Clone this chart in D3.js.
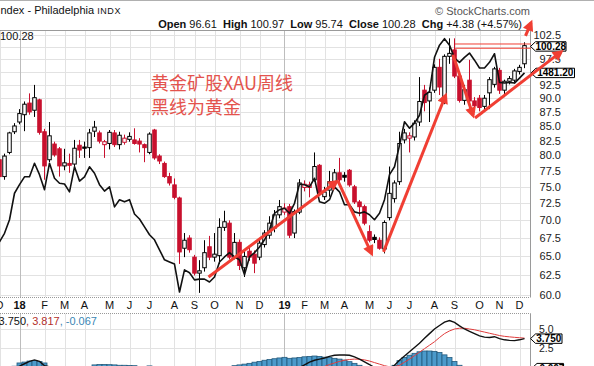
<!DOCTYPE html>
<html>
<head>
<meta charset="utf-8">
<script src="https://cdn.jsdelivr.net/npm/d3@7"></script>
<style>
  body { margin: 0; background: #fff; }
  svg { display: block; font-family: "Liberation Sans", Arial, sans-serif; }
</style>
</head>
<body>
<script>
// weekly bars, first bar is the week of 4 Dec 2017
var startWeek = new Date(Date.UTC(2017, 11, 4));

var opens = [
    79.3, 76.6, 80.5, 84.0, 85.7, 87.0, 89.1, 87.8, 89.7, 84.0,
    79.3, 81.9, 81.1, 78.3, 78.7, 78.6, 81.7, 81.4, 81.3, 84.1,
    83.8, 81.8, 82.0, 83.8, 81.8, 82.2, 82.7, 82.6, 82.4, 81.8,
    80.5, 84.3, 79.9, 78.7, 76.6, 75.3, 73.3, 66.1, 67.5, 64.9,
    62.8, 63.5, 66.3, 64.9, 65.1, 69.0, 69.6, 64.9, 66.9, 63.5,
    65.7, 65.3, 64.9, 66.6, 67.9, 68.9, 70.8, 71.2, 72.0, 68.2,
    71.2, 74.9, 74.9, 76.1, 78.4, 73.5, 74.5, 75.8, 77.2, 76.8,
    77.6, 75.0, 72.7, 72.0, 68.4, 67.6, 67.2, 66.0, 70.4, 73.2,
    75.8, 82.6, 82.9, 83.1, 85.7, 91.5, 89.5, 91.5, 95.9, 89.8,
    98.1, 99.4, 94.2, 89.6, 93.4, 89.5, 90.0, 88.5, 91.0, 92.6,
    95.3, 91.5, 93.2, 93.4, 95.1, 96.61
];
var highs = [
    80.0, 80.3, 84.0, 85.5, 88.0, 89.4, 90.9, 92.5, 89.9, 84.5,
    85.7, 82.3, 81.4, 81.1, 80.3, 82.6, 82.6, 82.3, 84.5, 85.9,
    84.2, 82.6, 84.3, 84.3, 84.0, 83.5, 83.9, 84.6, 82.9, 82.0,
    83.9, 84.5, 80.2, 79.0, 77.2, 76.3, 73.5, 68.2, 67.9, 65.2,
    64.5, 67.2, 67.8, 68.2, 70.3, 71.4, 70.0, 68.2, 67.3, 65.9,
    66.3, 65.8, 67.5, 68.6, 70.6, 71.5, 73.0, 72.5, 72.4, 71.6,
    76.2, 76.0, 75.8, 80.5, 78.6, 75.0, 77.5, 77.8, 79.6, 77.3,
    77.8, 75.3, 73.0, 72.3, 69.3, 68.0, 67.6, 70.0, 78.2, 76.0,
    84.0, 84.5, 83.9, 86.0, 94.0, 92.5, 92.0, 96.5, 97.6, 98.5,
    101.8, 101.8, 94.8, 92.5, 97.4, 90.2, 90.6, 90.6, 94.0, 96.0,
    95.8, 93.5, 94.2, 95.6, 96.4, 100.97
];
var lows = [
    76.3, 76.1, 80.2, 83.6, 85.3, 84.1, 87.0, 86.6, 83.5, 76.1,
    78.9, 79.8, 76.6, 77.6, 77.2, 78.2, 79.6, 79.6, 79.6, 83.1,
    82.0, 79.6, 81.0, 81.4, 81.0, 81.8, 82.3, 81.8, 80.5, 78.9,
    80.2, 79.3, 78.6, 76.4, 75.2, 73.1, 64.0, 64.9, 65.5, 62.5,
    60.3, 63.0, 64.5, 64.3, 64.0, 68.5, 64.6, 64.6, 63.2, 62.3,
    64.4, 62.8, 64.5, 66.2, 67.4, 68.3, 70.3, 70.8, 67.5, 67.5,
    70.9, 74.3, 73.4, 75.8, 73.8, 73.0, 73.5, 75.3, 75.3, 75.8,
    75.0, 72.4, 70.6, 69.3, 66.9, 66.8, 65.9, 65.4, 70.0, 72.6,
    75.3, 82.0, 80.5, 82.5, 85.0, 87.6, 85.7, 91.0, 90.6, 88.9,
    96.6, 93.8, 89.2, 88.8, 88.2, 87.8, 87.6, 87.6, 88.0, 92.0,
    90.8, 90.2, 92.6, 93.0, 94.5, 95.74
];
var closes = [
    76.6, 79.9, 83.8, 85.0, 87.2, 88.9, 87.5, 90.1, 83.9, 78.3,
    83.3, 80.1, 78.3, 78.8, 78.4, 81.2, 80.9, 81.2, 83.8, 84.8,
    82.4, 82.3, 83.9, 81.8, 83.4, 82.9, 83.2, 82.0, 81.9, 81.3,
    83.6, 79.6, 79.1, 76.6, 75.6, 73.4, 65.6, 67.2, 65.9, 62.8,
    63.1, 65.5, 64.9, 65.3, 69.0, 69.8, 64.9, 66.9, 63.8, 65.0,
    64.9, 64.1, 66.8, 68.2, 69.6, 70.8, 72.0, 71.8, 67.9, 71.3,
    75.6, 75.4, 75.3, 78.2, 74.1, 74.2, 75.8, 77.2, 76.1, 76.5,
    75.3, 72.7, 72.0, 69.6, 67.2, 67.3, 66.1, 69.7, 74.0, 75.6,
    82.0, 83.8, 83.3, 85.5, 89.4, 89.2, 91.1, 95.9, 92.1, 98.1,
    98.7, 94.2, 89.6, 91.6, 89.5, 88.6, 88.3, 90.0, 93.5, 95.6,
    91.5, 93.2, 93.7, 95.2, 95.9, 100.28
];

// gold overlay (black line)
var gold = [
    1245, 1257, 1276, 1313, 1325, 1336, 1336, 1355, 1339, 1318,
    1355, 1334, 1327, 1326, 1315, 1350, 1330, 1336, 1350, 1341,
    1325, 1316, 1322, 1294, 1304, 1301, 1304, 1284, 1277, 1266,
    1255, 1248, 1234, 1220, 1217, 1214, 1175, 1206, 1202, 1192,
    1193, 1193, 1189, 1196, 1217, 1224, 1230, 1224, 1220, 1199,
    1224, 1230, 1238, 1248, 1262, 1285, 1290, 1292, 1285, 1299,
    1326, 1325, 1322, 1334, 1301, 1299, 1304, 1322, 1315, 1297,
    1297, 1287, 1285, 1287, 1283, 1276, 1285, 1304, 1339, 1350,
    1380, 1413, 1404, 1411, 1422, 1450, 1455, 1503, 1520, 1529,
    1520, 1502, 1496, 1503, 1509, 1499, 1488, 1488, 1496, 1508,
    1468, 1467, 1468, 1467, 1474, 1481.2
];

// MACD(12,26,9)
var macd = [
    -1.2, -0.9, -0.5, -0.1, 0.2, 0.5, 0.8, 1.0, 0.8, 0.25,
    0.1, -0.2, -0.5, -0.8, -0.9, -0.8, -0.8, -0.8, -0.6, -0.3,
    -0.2, -0.15, -0.1, -0.15, -0.15, -0.15, -0.2, -0.25, -0.35, -0.5,
    -0.25, -0.5, -0.8, -1.2, -1.6, -2.0, -2.8, -3.3, -3.7, -4.2,
    -4.5, -4.6, -4.7, -4.7, -4.4, -4.0, -4.2, -3.8, -3.7, -3.4,
    -3.2, -3.0, -2.6, -2.1, -1.7, -1.3, -1.1, -0.9, -0.7, -0.4,
    0.0, 0.35, 0.7, 0.95, 1.1, 1.25, 1.45, 1.6, 1.63, 1.63,
    1.6, 1.4, 1.1, 0.75, 0.4, 0.0, -0.4, -0.5, -0.1, 0.3,
    0.95, 1.5, 2.05, 2.6, 3.15, 3.8, 4.4, 5.0, 5.45, 5.9,
    6.1, 5.85, 5.4, 5.0, 4.7, 4.4, 4.1, 3.95, 3.9, 4.0,
    3.75, 3.6, 3.52, 3.5, 3.6, 3.75
];
var signal = [
    -0.9, -0.9, -0.8, -0.6, -0.4, -0.2, 0.0, 0.1, 0.1, 0.0,
    0.0, 0.0, -0.1, -0.2, -0.4, -0.5, -0.55, -0.6, -0.6, -0.65,
    -0.6, -0.55, -0.48, -0.5, -0.45, -0.45, -0.48, -0.5, -0.45, -0.45,
    -0.47, -0.5, -0.6, -0.7, -0.9, -1.1, -1.4, -1.8, -2.2, -2.6,
    -3.0, -3.3, -3.6, -3.8, -3.9, -3.9, -4.0, -4.05, -4.0, -3.8,
    -3.75, -3.65, -3.37, -3.08, -2.8, -2.5, -2.17, -1.97, -1.9, -1.65,
    -1.2, -0.9, -0.6, -0.35, -0.1, 0.15, 0.4, 0.6, 0.8, 0.95,
    1.05, 1.1, 1.08, 1.0, 0.85, 0.65, 0.45, 0.25, 0.1, 0.1,
    0.3, 0.7, 1.1, 1.55, 2.0, 2.45, 2.9, 3.35, 3.9, 4.4,
    4.75, 5.0, 5.1, 5.1, 5.0, 4.9, 4.75, 4.6, 4.45, 4.3,
    4.15, 4.05, 3.98, 3.92, 3.87, 3.817
];
var hist = [
    -0.3, 0.0, 0.15, 0.18, 0.6, 0.72, 0.85, 0.92, 0.79, 0.6,
    0.1, -0.2, -0.4, -0.6, -0.5, -0.3, -0.25, -0.2, 0.0, 0.35,
    0.4, 0.4, 0.38, 0.35, 0.3, 0.3, 0.28, 0.25, 0.1, -0.05,
    0.22, 0.0, -0.2, -0.5, -0.7, -0.9, -1.4, -1.5, -1.5, -1.6,
    -1.5, -1.3, -1.1, -0.9, -0.5, -0.1, -0.2, 0.25, 0.35, 0.45,
    0.55, 0.7, 0.8, 0.95, 1.05, 1.15, 1.25, 1.33, 1.2, 1.25,
    1.3, 1.4, 1.45, 1.5, 1.45, 1.35, 1.3, 1.2, 1.1, 0.98,
    0.77, 0.55, 0.3, 0.05, -0.3, -0.6, -0.8, -0.65, -0.15, 0.3,
    0.9, 1.3, 1.6, 1.85, 2.05, 2.15, 2.15, 2.1, 1.95, 1.65,
    1.3, 0.8, 0.3, -0.1, -0.3, -0.5, -0.65, -0.65, -0.55, -0.3,
    -0.4, -0.45, -0.46, -0.42, -0.27, -0.067
];

var monthLabels = ["D", "18", "F", "M", "A", "M", "J", "J", "A", "S", "O", "N", "D",
                   "19", "F", "M", "A", "M", "J", "J", "A", "S", "O", "N", "D"];
var yTicks = [60, 62.5, 65, 67.5, 70, 72.5, 75, 77.5, 80, 82.5, 85, 87.5, 90,
              92.5, 95, 97.5, 100, 102.5];
// 95.0 and 100.0 sit under the value tags, so they get no label
var yLabels = [60, 62.5, 65, 67.5, 70, 72.5, 75, 77.5, 80, 82.5, 85, 87.5, 90,
               92.5, 97.5, 102.5];
var macdTicks = [5, 2.5];

// hand drawn notes: [bar number, price]
var noteArrows = [
    [[41.8, 62.3], [67.4, 75.8]],
    [[67.7, 75.9], [74.4, 65.4]],
    [[76.8, 65.6], [89.2, 90.5]],
    [[90.7, 98.4], [94.7, 86.9]],
    [[95.1, 86.4], [112.3, 99.0]],
    [[105.2, 102.3], [106.3, 105.1]]
];
var noteLevels = [100.62, 99.75];
var noteLevelSpan = [91.1, 106.3];
var noteText = ["黄金矿股XAU周线", "黑线为黄金"];

var colors = {
    up: "#000",
    down: "#c8102e",
    gold: "#111",
    grid: "#e2e2e2",
    gridYear: "#bdbdbd",
    border: "#9a9a9a",
    signal: "#e03c3c",
    histFill: "#4b9acb",
    histStroke: "#245a7c",
    note: "#f03e33",
    noteText: "#e4534d"
};

var width = 594, height = 366;
var plotRight = 530.5;

var svg = d3.select("body").append("svg")
    .attr("width", width)
    .attr("height", height);

function weekDate(i) {
    return new Date(startWeek.getTime() + i * 7 * 864e5);
}

var dates = opens.map(function (d, i) { return weekDate(i); });
var x = d3.scaleUtc().domain([dates[0], dates[dates.length - 1]]).range([-0.5, 524.5]);
var y = d3.scaleLog().domain([60, 102.5]).range([295.3, 35]);
var yGold = d3.scaleLinear().domain([1175, 1530]).range([292, 38]);
var yMacd = d3.scaleLinear().domain([0, 5]).range([367.6, 329]);

var defs = svg.append("defs");
defs.append("clipPath").attr("id", "mainClip").append("rect")
    .attr("x", 0).attr("y", 30.5).attr("width", plotRight).attr("height", 266.5);
defs.append("clipPath").attr("id", "macdClip").append("rect")
    .attr("x", 0).attr("y", 313.5).attr("width", plotRight).attr("height", 53);
defs.append("marker")
    .attr("id", "arrowHead")
    .attr("viewBox", "0 0 10 10")
    .attr("refX", 7).attr("refY", 5)
    .attr("markerWidth", 14).attr("markerHeight", 11)
    .attr("markerUnits", "userSpaceOnUse")
    .attr("orient", "auto")
    .append("path")
    .attr("d", "M0,0L10,5L0,10z")
    .attr("fill", colors.note);

// month ticks = first bar of every month
var monthTicks = [];
dates.forEach(function (d, i) {
    if (i === 0 || d.getUTCMonth() !== dates[i - 1].getUTCMonth()) {
        monthTicks.push(d);
    }
});

// ---- header ----
svg.append("line")
    .attr("x1", 0).attr("x2", width).attr("y1", 0.5).attr("y2", 0.5)
    .attr("stroke", "#b0b0b0");

var title = svg.append("text").attr("x", 0.5).attr("y", 14)
    .attr("font-size", 11).attr("fill", "#111");
title.append("tspan").text("ndex - Philadelphia ");
title.append("tspan").attr("font-size", 9).attr("letter-spacing", 0.6).text("INDX");

svg.append("text")
    .attr("x", 530).attr("y", 15)
    .attr("text-anchor", "end")
    .attr("font-size", 11)
    .attr("fill", "#555")
    .text("\u00a9 StockCharts.com");

var last = closes.length - 1;
var chg = closes[last] - closes[last - 1];
var fmt = d3.format(".2f");
var headerParts = [
    ["Open", fmt(opens[last])],
    ["High", fmt(highs[last])],
    ["Low", fmt(lows[last])],
    ["Close", fmt(closes[last])],
    ["Chg", "+" + fmt(chg) + " (+" + fmt(chg / closes[last - 1] * 100) + "%)"]
];
var header = svg.append("text")
    .attr("x", 522).attr("y", 27.5)
    .attr("text-anchor", "end")
    .attr("font-size", 11)
    .attr("fill", "#111")
    .attr("xml:space", "preserve");
headerParts.forEach(function (p, i) {
    header.append("tspan").attr("font-weight", "bold").text((i ? "  " : "") + p[0]);
    header.append("tspan").text(" " + p[1]);
});

// ---- grids ----
var grid = svg.append("g");
grid.selectAll("line.h").data(yTicks).enter().append("line")
    .attr("x1", 0).attr("x2", plotRight)
    .attr("y1", function (d) { return Math.round(y(d)) + 0.5; })
    .attr("y2", function (d) { return Math.round(y(d)) + 0.5; })
    .attr("stroke", colors.grid);
grid.selectAll("line.hm").data(macdTicks).enter().append("line")
    .attr("x1", 0).attr("x2", plotRight)
    .attr("y1", function (d) { return Math.round(yMacd(d)) + 0.5; })
    .attr("y2", function (d) { return Math.round(yMacd(d)) + 0.5; })
    .attr("stroke", colors.grid);
[[30.5, 297], [313.5, 366]].forEach(function (band) {
    grid.selectAll(null).data(monthTicks).enter().append("line")
        .attr("x1", function (d) { return Math.round(x(d)) + 0.5; })
        .attr("x2", function (d) { return Math.round(x(d)) + 0.5; })
        .attr("y1", band[0]).attr("y2", band[1])
        .attr("stroke", function (d) { return d.getUTCMonth() === 0 ? colors.gridYear : colors.grid; });
});

// frame
svg.append("line").attr("x1", 0).attr("x2", plotRight + 0.5).attr("y1", 30.5).attr("y2", 30.5)
    .attr("stroke", colors.border);
svg.append("line").attr("x1", plotRight).attr("x2", plotRight).attr("y1", 30.5).attr("y2", 297)
    .attr("stroke", colors.border);
svg.append("line").attr("x1", plotRight).attr("x2", plotRight).attr("y1", 313.5).attr("y2", 366)
    .attr("stroke", colors.border);
[297.5, 313.5].forEach(function (yy) {
    svg.append("line").attr("x1", 0).attr("x2", plotRight).attr("y1", yy).attr("y2", yy)
        .attr("stroke", "#999").attr("stroke-dasharray", "1,1");
});

// ---- candles ----
var bars = dates.map(function (d, i) {
    return {
        date: d, o: opens[i], h: highs[i], l: lows[i], c: closes[i],
        prev: i > 0 ? closes[i - 1] : opens[i]
    };
});
function barColor(b) { return b.c < b.prev ? colors.down : colors.up; }

var main = svg.append("g").attr("clip-path", "url(#mainClip)");
var candle = main.selectAll("g.candle").data(bars).enter().append("g");
candle.append("line")
    .attr("x1", function (b) { return x(b.date); })
    .attr("x2", function (b) { return x(b.date); })
    .attr("y1", function (b) { return y(b.h); })
    .attr("y2", function (b) { return y(b.l); })
    .attr("stroke", barColor)
    .attr("stroke-width", 1);
candle.append("rect")
    .attr("x", function (b) { return x(b.date) - 1.75; })
    .attr("width", 3.5)
    .attr("y", function (b) { return y(Math.max(b.o, b.c)); })
    .attr("height", function (b) { return Math.max(1, y(Math.min(b.o, b.c)) - y(Math.max(b.o, b.c))); })
    .attr("fill", function (b) { return b.c >= b.o ? "#fff" : barColor(b); })
    .attr("stroke", barColor)
    .attr("stroke-width", 1);

var goldLine = d3.line()
    .x(function (d, i) { return x(dates[i]); })
    .y(function (d) { return yGold(d); });
main.append("path")
    .attr("d", goldLine(gold))
    .attr("fill", "none")
    .attr("stroke", colors.gold)
    .attr("stroke-width", 1.6)
    .attr("stroke-linejoin", "round");

// ---- x axis strip ----
svg.append("g").selectAll("text").data(monthTicks).enter().append("text")
    .attr("x", function (d) { return x(d); })
    .attr("y", 309)
    .attr("text-anchor", "middle")
    .attr("font-size", 11)
    .attr("font-weight", function (d, i) { return /\d/.test(monthLabels[i]) ? "bold" : "normal"; })
    .attr("fill", "#111")
    .text(function (d, i) { return monthLabels[i]; });

// ---- MACD panel ----
var panel = svg.append("g").attr("clip-path", "url(#macdClip)");
panel.selectAll("rect").data(hist).enter().append("rect")
    .attr("x", function (d, i) { return x(dates[i]) - 2.5; })
    .attr("width", 5)
    .attr("y", function (d) { return Math.min(yMacd(d), yMacd(0)); })
    .attr("height", function (d) { return Math.abs(yMacd(0) - yMacd(d)); })
    .attr("fill", colors.histFill)
    .attr("stroke", colors.histStroke)
    .attr("stroke-width", 0.8);
var macdLine = d3.line()
    .x(function (d, i) { return x(dates[i]); })
    .y(function (d) { return yMacd(d); });
panel.append("path").attr("d", macdLine(signal))
    .attr("fill", "none").attr("stroke", colors.signal).attr("stroke-width", 1);
panel.append("path").attr("d", macdLine(macd))
    .attr("fill", "none").attr("stroke", "#111").attr("stroke-width", 1.4);

function fmt3(v) { return d3.format(".3f")(v).replace("\u2212", "-"); }
var macdTitle = svg.append("text").attr("x", -1.5).attr("y", 325).attr("font-size", 11);
macdTitle.append("tspan").attr("fill", "#111").text(fmt3(macd[last]));
macdTitle.append("tspan").attr("fill", "#b3302c").text(", " + fmt3(signal[last]));
macdTitle.append("tspan").attr("fill", "#3a86b4").text(", " + fmt3(hist[last]));

// ---- right axes ----
var yAxis = svg.append("g")
    .attr("transform", "translate(561,0)")
    .call(d3.axisRight(y).tickValues(yLabels).tickFormat(d3.format(".1f")).tickSize(0));
var macdAxis = svg.append("g")
    .attr("transform", "translate(553.5,0)")
    .call(d3.axisRight(yMacd).tickValues(macdTicks).tickFormat(d3.format(".1f")).tickSize(0));
[yAxis, macdAxis].forEach(function (ax) {
    ax.select(".domain").remove();
    ax.selectAll("text")
        .attr("x", 0)
        .attr("text-anchor", "end")
        .attr("font-size", 11)
        .attr("font-family", "Liberation Sans, Arial, sans-serif")
        .attr("fill", "#222");
});
macdAxis.selectAll("text").attr("font-size", 10.5);

// value tags
function drawTag(left, right, cy, label) {
    var h = 4.7;
    svg.append("path")
        .attr("d", "M" + left + "," + cy + "L" + (left + 5) + "," + (cy - h) + "L" + right + "," + (cy - h) +
            "L" + right + "," + (cy + h) + "L" + (left + 5) + "," + (cy + h) + "Z")
        .attr("fill", "#fff").attr("stroke", "#000").attr("stroke-width", 1);
    svg.append("text")
        .attr("x", (left + 5 + right) / 2).attr("y", cy + 3.5)
        .attr("text-anchor", "middle")
        .attr("font-size", 10).attr("font-weight", "bold").attr("fill", "#000")
        .text(label);
}
drawTag(530.5, 566, y(closes[last]) + 0.8, fmt(closes[last]));
drawTag(531, 574.5, yGold(gold[last]), d3.format(".2f")(gold[last]));
drawTag(530.5, 562, yMacd(macd[last]), fmt3(macd[last]));
drawTag(532, 563.5, yMacd(hist[last]), fmt3(hist[last]));

// last close at top-left
svg.append("text").attr("x", 0).attr("y", 40).attr("font-size", 11).attr("fill", "#111")
    .text(fmt(closes[last]));

// ---- hand drawn notes ----
var notes = svg.append("g");
noteLevels.forEach(function (v) {
    notes.append("line")
        .attr("x1", x(weekDate(noteLevelSpan[0]))).attr("x2", x(weekDate(noteLevelSpan[1])))
        .attr("y1", y(v)).attr("y2", y(v))
        .attr("stroke", colors.note).attr("stroke-width", 1);
});
notes.selectAll("line.arrow").data(noteArrows).enter().append("line")
    .attr("x1", function (a) { return x(weekDate(a[0][0])); })
    .attr("y1", function (a) { return y(a[0][1]); })
    .attr("x2", function (a) { return x(weekDate(a[1][0])); })
    .attr("y2", function (a) { return y(a[1][1]); })
    .attr("stroke", colors.note)
    .attr("stroke-width", 3)
    .attr("marker-end", "url(#arrowHead)");

notes.selectAll("text").data(noteText).enter().append("text")
    .attr("x", 151)
    .attr("y", function (d, i) { return 90 + i * 24; })
    .attr("font-family", "Noto Sans CJK SC, sans-serif")
    .attr("font-size", 18)
    .attr("fill", colors.noteText)
    .text(function (d) { return d; });
</script>
</body>
</html>
